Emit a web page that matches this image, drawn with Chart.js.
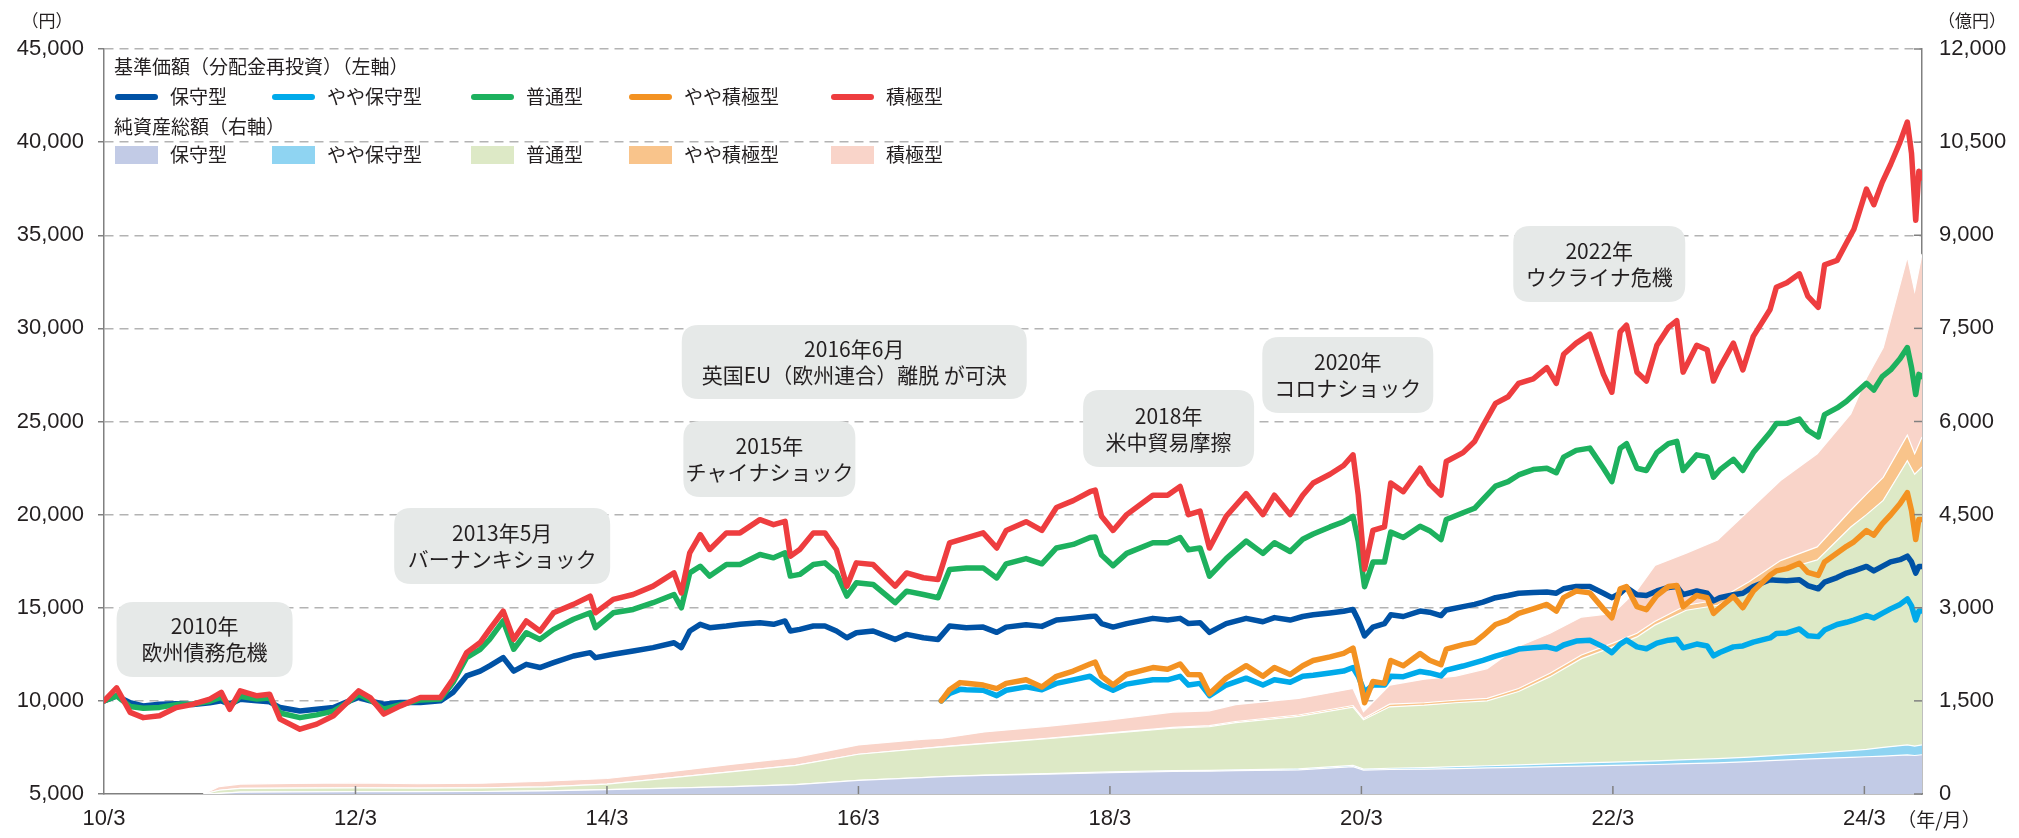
<!DOCTYPE html>
<html>
<head>
<meta charset="utf-8">
<script src="https://cdn.jsdelivr.net/npm/chart.js@4.4.1/dist/chart.umd.min.js"></script>
<style>
  html, body { margin: 0; padding: 0; background: #fff; }
  canvas { display: block; }
</style>
</head>
<body>
<canvas id="chart" width="2019" height="838"></canvas>
<script>
// x values are months counted from 2010/3 (0 = 10/3, 24 = 12/3, ...)

// 基準価額 (円), [month, value]
const sekkyokuPrice = [[0,10000],[1.2,10700],[2.5,9380],[3.75,9100],[5.3,9200],[6.9,9640],[8.5,9820],[10.1,10090],[11.2,10450],[12.0,9550],[13.0,10540],[14.6,10270],[15.8,10360],[16.8,9020],[18.7,8480],[20.3,8750],[21.9,9200],[23.2,9910],[24.3,10540],[25.4,10180],[26.7,9290],[28.3,9730],[30.2,10180],[32.1,10180],[33.3,11160],[34.6,12590],[35.9,13130],[36.8,13840],[38.1,14820],[39.1,13300],[40.3,14290],[41.6,13750],[42.9,14730],[44.8,15180],[46.4,15620],[46.9,14730],[48.6,15450],[50.5,15710],[52.4,16160],[54.4,16870],[55.1,15800],[55.9,17950],[56.9,18930],[57.8,18130],[59.4,19020],[60.7,19020],[62.6,19730],[63.9,19460],[65.0,19640],[65.5,17770],[66.4,18130],[67.7,19020],[68.8,19020],[69.9,18130],[70.9,16160],[71.8,17410],[73.4,17320],[75.5,16160],[76.6,16870],[78.2,16610],[79.6,16520],[80.7,18480],[82.3,18750],[83.9,19020],[85.2,18210],[86.1,19150],[88,19620],[89.5,19150],[90.9,20380],[92.5,20750],[94.1,21230],[94.6,21320],[95.2,19910],[96.3,19150],[97.6,20000],[100.1,21040],[101.5,21040],[102.7,21510],[103.5,20000],[104.6,20190],[105.5,18210],[107.1,19910],[109,21130],[110.6,20000],[111.7,21040],[113.2,20000],[114.4,21040],[115.4,21700],[117,22170],[118.3,22640],[119.2,23210],[119.7,21040],[120.3,17070],[121.1,19150],[122.2,19340],[122.8,21700],[124,21230],[125.6,22490],[126.5,21650],[127.6,21050],[128.1,22850],[129.7,23330],[130.8,23930],[131.6,24770],[132.8,25970],[134,26330],[135,27050],[136.4,27290],[137.7,27890],[138.6,27050],[139.3,28610],[140.5,29210],[141.8,29690],[143.1,27530],[143.9,26570],[144.7,29810],[145.3,30170],[146.3,27650],[147.2,27170],[148.2,29090],[149.3,30050],[150.1,30410],[150.7,27650],[152,29090],[153,28850],[153.6,27170],[154.2,27890],[155.5,29210],[156.4,27770],[157.4,29570],[159,31010],[159.6,32210],[160.6,32450],[161.8,32930],[162.6,31730],[163.6,31130],[164.2,33410],[165.4,33650],[166.3,34600],[167,35320],[168.2,37480],[168.9,36640],[169.7,37840],[170.5,38800],[171.4,40000],[172.1,41080],[172.5,39400],[172.9,35800],[173.2,38440],[173.5,38080]];

const futsuPrice = [[0,10000],[1.2,10270],[2.5,9700],[3.75,9600],[5.3,9650],[6.9,9800],[8.5,9830],[10.1,9980],[11.2,10200],[12.0,9700],[13.0,10250],[14.6,10100],[15.8,10150],[16.8,9350],[18.7,9100],[20.3,9250],[21.9,9450],[23.2,9900],[24.3,10350],[25.4,10050],[26.7,9550],[28.3,9800],[30.2,10050],[32.1,10100],[33.3,10980],[34.6,12320],[35.9,12770],[36.8,13300],[38.1,14290],[39.1,12770],[40.3,13660],[41.6,13300],[42.9,13840],[44.8,14380],[46.4,14730],[46.9,13930],[48.6,14730],[50.5,14910],[52.4,15270],[54.4,15710],[55.1,15000],[55.9,16870],[56.9,17230],[57.8,16700],[59.4,17320],[60.7,17320],[62.6,17860],[63.9,17680],[65.0,17950],[65.5,16700],[66.4,16790],[67.7,17320],[68.8,17410],[69.9,16870],[70.9,15630],[71.8,16340],[73.4,16250],[75.5,15270],[76.6,15890],[78.2,15710],[79.6,15540],[80.7,17050],[82.3,17140],[83.9,17140],[85.2,16600],[86.1,17360],[88,17640],[89.5,17360],[90.9,18210],[92.5,18400],[94.1,18770],[94.6,18800],[95.2,17830],[96.3,17260],[97.6,17920],[100.1,18490],[101.5,18490],[102.7,18770],[103.5,18110],[104.6,18210],[105.5,16700],[107.1,17640],[109,18580],[110.6,17920],[111.7,18490],[113.2,18020],[114.4,18680],[115.4,18960],[117,19340],[118.3,19620],[119.2,19910],[119.7,18580],[120.3,16130],[121.1,17450],[122.2,17450],[122.8,19060],[124,18770],[125.6,19380],[126.5,19140],[127.6,18660],[128.1,19740],[129.7,20100],[130.8,20340],[131.6,20820],[132.8,21530],[134,21770],[135,22130],[136.4,22420],[137.7,22490],[138.6,22250],[139.3,23090],[140.5,23450],[141.8,23570],[143.1,22490],[143.9,21770],[144.7,23570],[145.3,23810],[146.3,22490],[147.2,22370],[148.2,23330],[149.3,23810],[150.1,23930],[150.7,22370],[152,23210],[153,23100],[153.6,22010],[154.2,22400],[155.5,22970],[156.4,22370],[157.4,23330],[159,24410],[159.6,24890],[160.6,24900],[161.8,25130],[162.6,24530],[163.6,24170],[164.2,25370],[165.4,25730],[166.3,26090],[167,26450],[168.2,27050],[168.9,26690],[169.7,27410],[170.5,27770],[171.4,28370],[172.1,28970],[172.5,27890],[172.9,26450],[173.2,27530],[173.5,27410]];

const hoshuPrice = [[0,10000],[1.2,10270],[2.5,9900],[3.75,9730],[5.3,9820],[6.9,9850],[8.5,9800],[10.1,9900],[11.2,10000],[12.0,9820],[13.0,10090],[14.6,10000],[15.8,9950],[16.8,9640],[18.7,9460],[20.3,9550],[21.9,9640],[23.2,9950],[24.3,10180],[25.4,10000],[26.7,9820],[28.3,9910],[30.2,9910],[32.1,10000],[33.3,10450],[34.6,11340],[35.9,11600],[36.8,11880],[38.1,12320],[39.1,11600],[40.3,11960],[41.6,11790],[42.9,12050],[44.8,12410],[46.4,12590],[46.9,12320],[48.6,12500],[50.5,12680],[52.4,12860],[54.4,13120],[55.1,12860],[55.9,13750],[56.9,14110],[57.8,13930],[59.4,14020],[60.7,14110],[62.6,14200],[63.9,14110],[65.0,14290],[65.5,13750],[66.4,13840],[67.7,14020],[68.8,14020],[69.9,13750],[70.9,13390],[71.8,13660],[73.4,13750],[75.5,13300],[76.6,13570],[78.2,13390],[79.6,13300],[80.7,14020],[82.3,13930],[83.9,13960],[85.2,13680],[86.1,13960],[88,14090],[89.5,14000],[90.9,14340],[92.5,14430],[94.1,14530],[94.6,14550],[95.2,14150],[96.3,13960],[97.6,14150],[100.1,14430],[101.5,14340],[102.7,14430],[103.5,14150],[104.6,14200],[105.5,13680],[107.1,14150],[109,14430],[110.6,14250],[111.7,14470],[113.2,14340],[114.4,14530],[115.4,14620],[117,14720],[118.3,14810],[119.2,14910],[119.7,14340],[120.3,13490],[121.1,13960],[122.2,14150],[122.8,14620],[124,14530],[125.6,14820],[126.5,14760],[127.6,14580],[128.1,14880],[129.7,15060],[130.8,15180],[131.6,15300],[132.8,15540],[134,15660],[135,15780],[136.4,15820],[137.7,15840],[138.6,15780],[139.3,16020],[140.5,16140],[141.8,16140],[143.1,15780],[143.9,15540],[144.7,15780],[145.3,16090],[146.3,15700],[147.2,15660],[148.2,15900],[149.3,16090],[150.1,16140],[150.7,15700],[152,15900],[153,15780],[153.6,15370],[154.2,15540],[155.5,15700],[156.4,15780],[157.4,16140],[159,16500],[159.6,16480],[160.6,16450],[161.8,16500],[162.6,16190],[163.6,16020],[164.2,16380],[165.4,16620],[166.3,16860],[167,16980],[168.2,17220],[168.9,16980],[169.7,17220],[170.5,17460],[171.4,17580],[172.1,17770],[172.5,17460],[172.9,16860],[173.2,17220],[173.5,17220]];

const yayaSekkyokuPrice = [[79.9,10000],[80.7,10600],[81.7,10980],[82.3,10950],[83.9,10850],[85.2,10660],[86.1,10940],[88,11130],[89.5,10750],[90.9,11320],[92.5,11600],[94.1,11980],[94.6,12080],[95.2,11320],[96.3,10850],[97.6,11420],[100.1,11790],[101.5,11700],[102.7,11980],[103.5,11420],[104.6,11400],[105.5,10380],[107.1,11230],[109,11890],[110.6,11320],[111.7,11790],[113.2,11420],[114.4,11890],[115.4,12170],[117,12360],[118.3,12550],[119.2,12830],[119.7,11600],[120.3,9900],[121.1,11040],[122.2,10940],[122.8,12170],[124,11890],[125.6,12540],[126.5,12180],[127.6,11940],[128.1,12780],[129.7,13020],[130.8,13140],[131.6,13500],[132.8,14100],[134,14340],[135,14700],[136.4,14940],[137.7,15180],[138.6,14820],[139.3,15540],[140.5,15900],[141.8,15800],[143.1,14940],[143.9,14460],[144.7,16020],[145.3,16140],[146.3,15060],[147.2,14900],[148.2,15660],[149.3,16140],[150.1,16200],[150.7,15060],[152,15660],[153,15540],[153.6,14700],[154.2,15000],[155.5,15610],[156.4,15000],[157.4,15900],[159,16740],[159.6,16980],[160.6,17100],[161.8,17390],[162.6,16900],[163.6,16740],[164.2,17460],[165.4,17940],[166.3,18300],[167,18540],[168.2,19140],[168.9,18900],[169.7,19500],[170.5,19980],[171.4,20580],[172.1,21180],[172.5,20220],[172.9,18660],[173.2,19740],[173.5,19740]];

const yayaHoshuPrice = [[79.9,10000],[80.7,10400],[81.7,10620],[82.3,10600],[83.9,10570],[85.2,10280],[86.1,10570],[88,10750],[89.5,10600],[90.9,10940],[92.5,11130],[94.1,11320],[95.2,10850],[96.3,10570],[97.6,10900],[100.1,11130],[101.5,11130],[102.7,11320],[103.5,10850],[104.6,10940],[105.5,10280],[107.1,10850],[109,11220],[110.6,10850],[111.7,11130],[113.2,11000],[114.4,11320],[115.4,11380],[117,11500],[118.3,11600],[119.2,11790],[119.7,11320],[120.3,10470],[121.1,10850],[122.2,10850],[122.8,11320],[124,11300],[125.6,11580],[126.5,11500],[127.6,11340],[128.1,11650],[129.7,11870],[131.6,12180],[132.8,12400],[134,12590],[135,12780],[136.4,12850],[137.7,12900],[138.6,12780],[139.3,13000],[140.5,13210],[141.8,13250],[143.1,12900],[143.9,12590],[144.7,13050],[145.3,13260],[146.3,12900],[147.2,12800],[148.2,13100],[149.3,13260],[150.1,13310],[150.7,12850],[152,13050],[153,12950],[153.6,12420],[154.2,12600],[155.5,12900],[156.4,12950],[157.4,13150],[159,13380],[159.6,13620],[160.6,13650],[161.8,13860],[162.6,13500],[163.6,13450],[164.2,13800],[165.4,14100],[166.3,14220],[167,14340],[168.2,14580],[168.9,14450],[169.7,14700],[170.5,14940],[171.4,15180],[172.1,15470],[172.5,15100],[172.9,14340],[173.2,14820],[173.5,14820]];

// 純資産総額 (億円), one value per month in assetMonths, stacked
const assetMonths = [9.5,11,13,18,24,30,36,42,48,54,60,66,72,78,80,84,90,96,102,105.5,108,114,119.2,120.2,122.7,126,129,132,135,138,141,144,146.3,148,151,154,157,160,163.5,166.7,168.2,169.8,172.1,172.8,173.5];
const hoshuAsset = [0,10,30,35,37,38,40,50,70,95,120,150,220,265,280,300,320,345,365,368,375,388,440,385,395,400,410,420,430,440,450,460,470,475,490,500,520,545,570,590,600,610,630,620,632];
const yayaHoshuAsset = [0,0,0,0,0,0,0,0,0,0,0,0,0,0,2,5,8,10,12,14,15,17,20,17,20,25,30,35,40,45,50,55,55,60,65,70,75,80,90,110,120,140,160,150,161];
const futsuAsset = [0,50,60,60,63,57,60,65,90,165,240,310,420,465,478,505,562,620,683,703,760,845,940,793,989,1005,1030,1045,1180,1405,1680,1855,2005,2185,2405,2470,2735,2975,3110,3600,3780,3980,4580,4380,4477];
const yayaSekkyokuAsset = [0,0,0,0,0,0,0,0,0,0,0,0,0,0,2,5,8,10,13,15,18,22,25,20,43,40,40,40,50,55,60,60,60,60,80,85,90,160,210,270,330,370,410,330,480];
const sekkyokuAsset = [0,60,70,75,80,70,75,90,90,100,120,130,150,150,138,185,192,210,247,240,272,268,275,110,308,380,390,480,680,645,610,480,690,900,840,965,1150,1290,1500,1550,1870,2090,2870,2620,2950];

const fundNames = ['保守型', 'やや保守型', '普通型', 'やや積極型', '積極型'];
const lineColors = ['#0052a5', '#00aaea', '#1db15e', '#f39222', '#ee3d3f'];
const areaColors = ['#c2cbe6', '#8fd4f2', '#dde9c6', '#f9c48b', '#f9d4c9'];

const eventNotes = [
  { month: 9.6, value: 13300, w: 176, h: 75, text: ['2010年', '欧州債務危機'] },
  { month: 38.0, value: 18315, w: 216, h: 76, text: ['2013年5月', 'バーナンキショック'] },
  { month: 63.5, value: 22990, w: 172, h: 76, text: ['2015年', 'チャイナショック'] },
  { month: 71.6, value: 28195, w: 345, h: 74, text: ['2016年6月', '英国EU（欧州連合）離脱 が可決'] },
  { month: 101.6, value: 24620, w: 171, h: 77, text: ['2018年', '米中貿易摩擦'] },
  { month: 118.7, value: 27500, w: 171, h: 76, text: ['2020年', 'コロナショック'] },
  { month: 142.7, value: 33456, w: 172, h: 76, text: ['2022年', 'ウクライナ危機'] }
];

const FONT = '"Liberation Sans", "Noto Sans CJK JP", sans-serif';
const JFONT = '"Noto Sans CJK JP", "Liberation Sans", sans-serif';
const TEXT = '#231f20';
const AXIS = '#808080';

const pts = arr => arr.map(([x, y]) => ({ x, y }));
const assetPts = vals => assetMonths.map((m, i) => ({ x: m, y: vals[i] }));

const assetSets = [hoshuAsset, yayaHoshuAsset, futsuAsset, yayaSekkyokuAsset, sekkyokuAsset].map((vals, i) => ({
  label: fundNames[i] + '（純資産）',
  data: assetPts(vals),
  yAxisID: 'y2',
  backgroundColor: areaColors[i],
  borderColor: '#ffffff',
  borderWidth: 1.2,
  fill: i === 0 ? 'origin' : '-1',
  pointRadius: 0,
  tension: 0,
  order: 10
}));

const priceSeries = [hoshuPrice, yayaHoshuPrice, futsuPrice, yayaSekkyokuPrice, sekkyokuPrice];
const drawOrder = [4, 5, 2, 3, 1];
const priceSets = priceSeries.map((arr, i) => ({
  label: fundNames[i],
  data: pts(arr),
  yAxisID: 'y',
  borderColor: lineColors[i],
  borderWidth: 5.5,
  borderJoinStyle: 'round',
  borderCapStyle: 'round',
  fill: false,
  pointRadius: 0,
  tension: 0,
  order: drawOrder[i]
}));

function roundRect(ctx, x, y, w, h, r) {
  ctx.beginPath();
  ctx.moveTo(x + r, y);
  ctx.lineTo(x + w - r, y);
  ctx.quadraticCurveTo(x + w, y, x + w, y + r);
  ctx.lineTo(x + w, y + h - r);
  ctx.quadraticCurveTo(x + w, y + h, x + w - r, y + h);
  ctx.lineTo(x + r, y + h);
  ctx.quadraticCurveTo(x, y + h, x, y + h - r);
  ctx.lineTo(x, y + r);
  ctx.quadraticCurveTo(x, y, x + r, y);
  ctx.closePath();
}

const decorations = {
  id: 'decorations',
  afterDatasetsDraw(chart) {
    const { ctx, chartArea: a, scales } = chart;
    ctx.save();

    // inward tick marks on the bottom and right axes
    ctx.strokeStyle = AXIS;
    ctx.lineWidth = 1.5;
    scales.x.ticks.forEach(t => {
      if (t.value === 0) return;
      const px = scales.x.getPixelForValue(t.value);
      ctx.beginPath(); ctx.moveTo(px, a.bottom); ctx.lineTo(px, a.bottom - 8); ctx.stroke();
    });
    scales.y2.ticks.forEach(t => {
      const py = scales.y2.getPixelForValue(t.value);
      ctx.beginPath(); ctx.moveTo(a.right, py); ctx.lineTo(a.right - 8, py); ctx.stroke();
    });

    // event boxes
    ctx.textAlign = 'center';
    ctx.textBaseline = 'middle';
    eventNotes.forEach(n => {
      const cx = scales.x.getPixelForValue(n.month);
      const cy = scales.y.getPixelForValue(n.value);
      roundRect(ctx, cx - n.w / 2, cy - n.h / 2, n.w, n.h, 17);
      ctx.fillStyle = '#e6e9e8';
      ctx.fill();
      ctx.fillStyle = TEXT;
      ctx.font = '21px ' + JFONT;
      ctx.fillText(n.text[0], cx, cy - 13);
      ctx.fillText(n.text[1], cx, cy + 13);
    });

    // legend
    const lx = [a.left + 11, a.left + 168, a.left + 367, a.left + 525, a.left + 727];
    ctx.textAlign = 'left';
    ctx.font = '19px ' + JFONT;
    ctx.fillStyle = TEXT;
    ctx.fillText('基準価額（分配金再投資）（左軸）', a.left + 10, a.top + 18);
    ctx.fillText('純資産総額（右軸）', a.left + 10, a.top + 78);
    fundNames.forEach((name, i) => {
      const y1 = a.top + 48, y2 = a.top + 106;
      ctx.strokeStyle = lineColors[i];
      ctx.lineWidth = 6;
      ctx.lineCap = 'round';
      ctx.beginPath(); ctx.moveTo(lx[i] + 3, y1); ctx.lineTo(lx[i] + 40, y1); ctx.stroke();
      ctx.fillStyle = areaColors[i];
      ctx.fillRect(lx[i], y2 - 9, 43, 18);
      ctx.fillStyle = TEXT;
      ctx.fillText(name, lx[i] + 55, y1);
      ctx.fillText(name, lx[i] + 55, y2);
    });

    // axis units
    ctx.font = '17px ' + JFONT;
    ctx.textAlign = 'center';
    ctx.fillText('（円）', 47, 21);
    ctx.fillText('（億円）', 1972, 21);
    ctx.font = '19px ' + JFONT;
    ctx.fillText('（年/月）', 1939, 820);
    ctx.restore();
  }
};

new Chart(document.getElementById('chart'), {
  type: 'line',
  data: { datasets: [...assetSets, ...priceSets] },
  plugins: [decorations],
  options: {
    responsive: false,
    devicePixelRatio: 1,
    animation: false,
    events: [],
    layout: { padding: { top: 49, left: 0, right: 0, bottom: 0 } },
    plugins: { legend: { display: false }, tooltip: { enabled: false } },
    scales: {
      x: {
        type: 'linear',
        min: 0,
        max: 173.5,
        afterFit: s => { s.height = 44; },
        border: { color: AXIS, width: 1.5 },
        grid: { display: false, drawTicks: false },
        ticks: {
          stepSize: 24,
          includeBounds: false,
          autoSkip: false,
          maxRotation: 0,
          padding: 12,
          color: TEXT,
          font: { family: FONT, size: 22 },
          callback: v => (v % 24 === 0 ? `${10 + v / 12}/3` : '')
        }
      },
      y: {
        position: 'left',
        min: 5000,
        max: 45000,
        afterFit: s => { s.width = 104; },
        border: { color: AXIS, width: 1.5, dash: [9, 6] },
        grid: {
          color: c => (c.tick && c.tick.value === 5000 ? 'rgba(0,0,0,0)' : '#b3b3b3'),
          lineWidth: 1.5,
          tickColor: AXIS,
          tickLength: 6,
          tickBorderDash: []
        },
        ticks: {
          stepSize: 5000,
          padding: 14,
          color: TEXT,
          font: { family: FONT, size: 22 },
          callback: v => v.toLocaleString('en-US')
        }
      },
      y2: {
        position: 'right',
        min: 0,
        max: 12000,
        stacked: true,
        afterFit: s => { s.width = 97; },
        border: { color: AXIS, width: 1.5 },
        grid: { drawOnChartArea: false, drawTicks: false },
        ticks: {
          stepSize: 1500,
          padding: 17,
          color: TEXT,
          font: { family: FONT, size: 22 },
          callback: v => v.toLocaleString('en-US')
        }
      }
    }
  }
});
</script>
</body>
</html>
